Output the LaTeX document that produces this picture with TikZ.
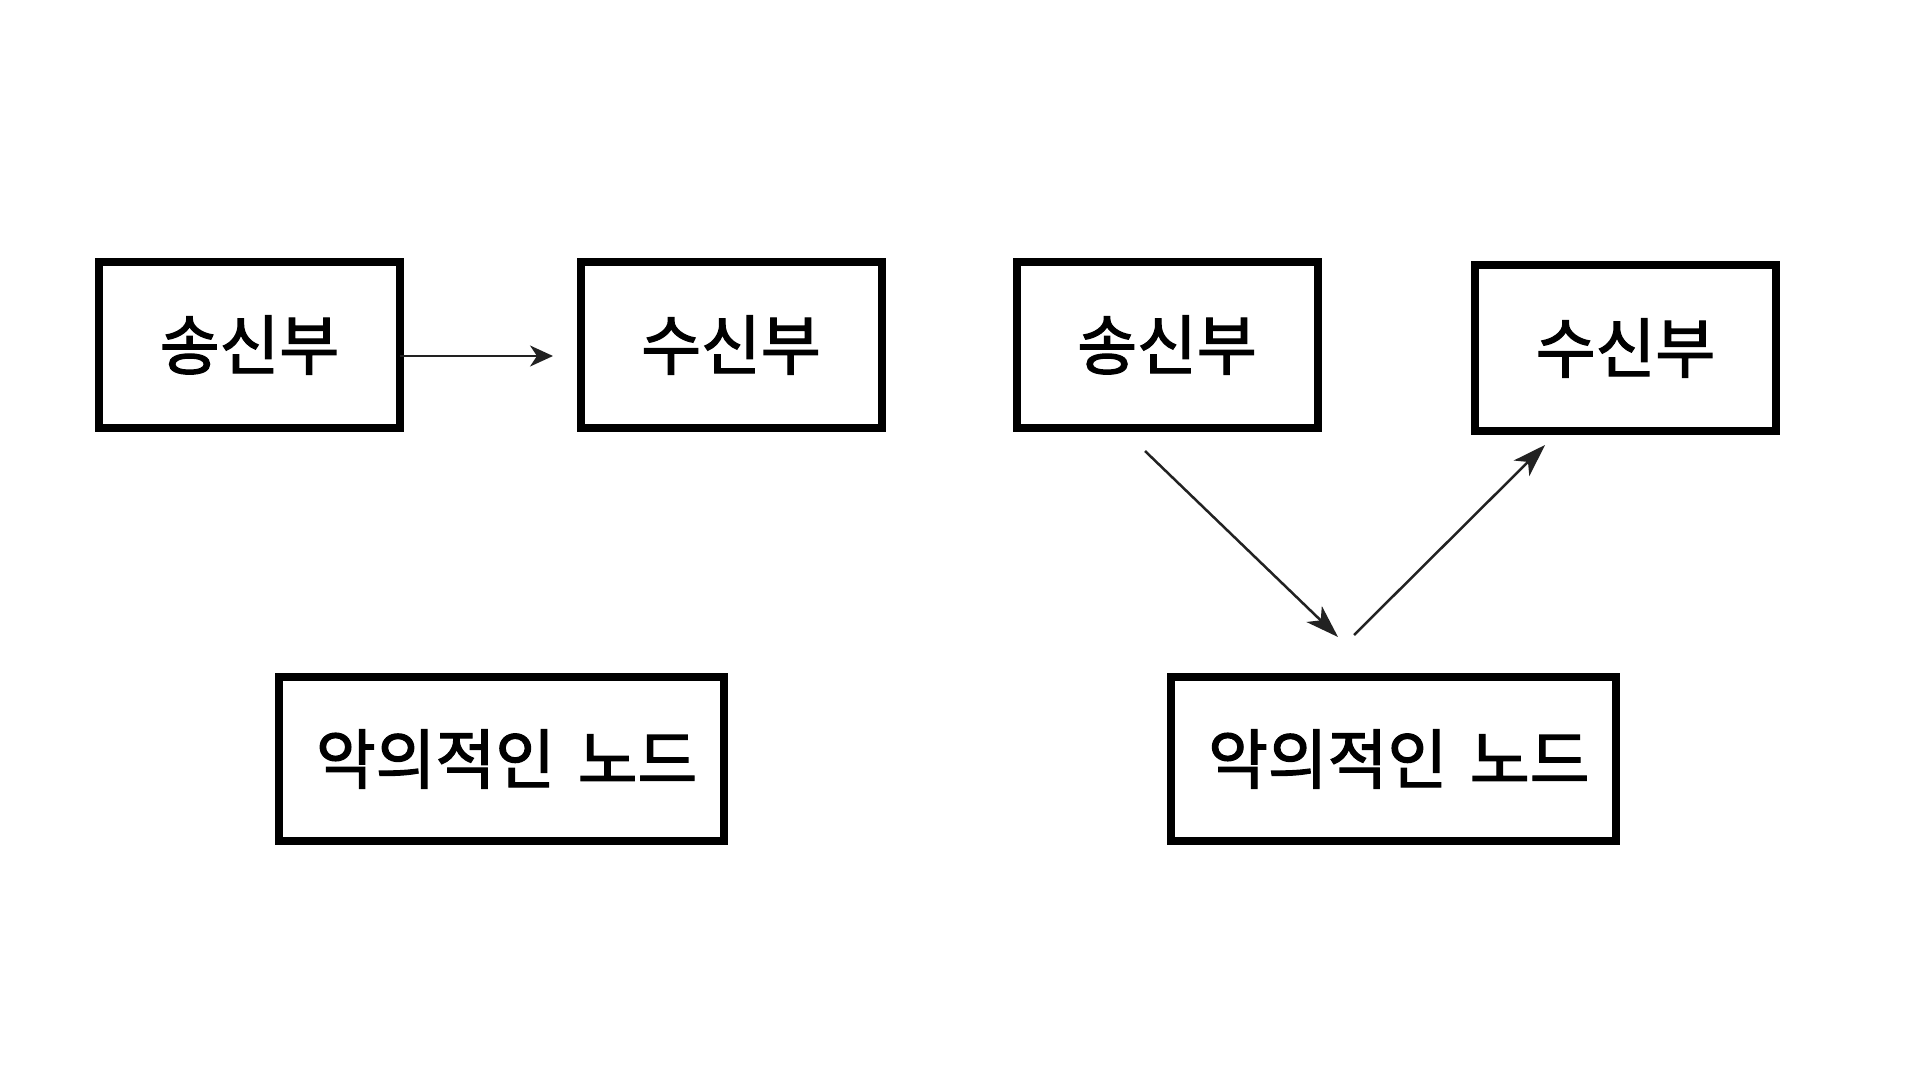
\documentclass[tikz,border=0pt]{standalone}
\usepackage{fontspec}
\setmainfont{Noto Sans CJK KR}[AutoFakeBold=2]
\usetikzlibrary{arrows.meta}
\definecolor{arr}{HTML}{222222}
\tikzset{
  box/.style={draw=black, line width=8pt, minimum width=301pt, minimum height=166pt, inner sep=0pt, font=\fontsize{65}{72}\selectfont\bfseries},
  wbox/.style={box, minimum width=445pt, minimum height=164pt},
  conn/.style={draw=arr, line width=2.5pt, -{Stealth[length=33pt,width=22pt,inset=9pt]}},
  sconn/.style={draw=arr, line width=2.4pt, -{Stealth[length=23pt,width=21pt,inset=7pt]}}
}
\begin{document}
\begin{tikzpicture}[x=1pt,y=-1pt]
\useasboundingbox[fill=white] (0,0) rectangle (1920,1080);
\node[box] (A) at (249.5,345) {송신부};
\node[box] (B) at (731,345) {수신부};
\node[box] (C) at (1167,345) {송신부};
\node[box] (D) at (1625.5,348) {수신부};
\node[wbox] (E) at (501.6,759) {\hspace*{10pt}악의적인\hspace{8pt} 노드};
\node[wbox] (F) at (1393.8,759) {\hspace*{10pt}악의적인\hspace{8pt} 노드};
\coordinate (ab) at (553,356);
\coordinate (c1) at (1145,451);
\coordinate (c2) at (1338,637);
\coordinate (d1) at (1354,635);
\coordinate (d2) at (1545,445);
\draw[sconn] ([xshift=-4pt]A.east |- ab) -- (ab);
\draw[conn] (c1) -- (c2);
\draw[conn] (d1) -- (d2);
\end{tikzpicture}
\end{document}
